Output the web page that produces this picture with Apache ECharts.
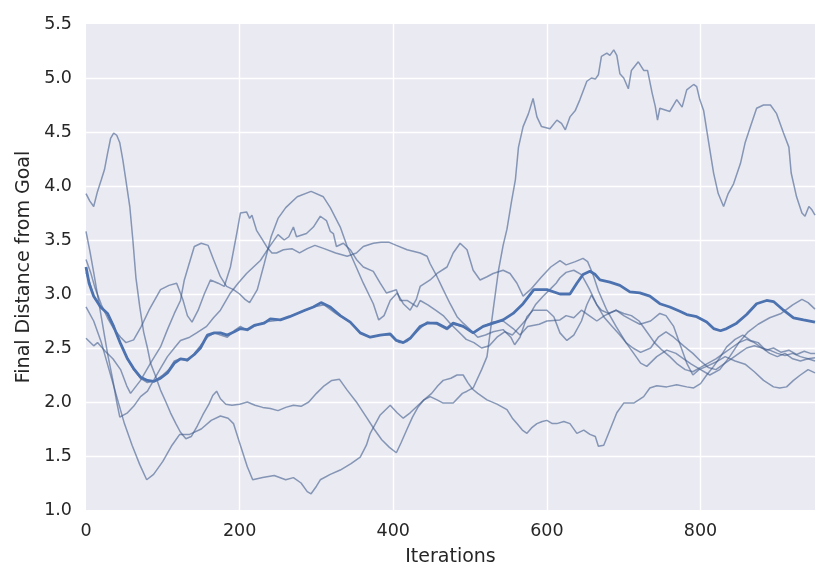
<!DOCTYPE html>
<html>
<head>
<meta charset="utf-8">
<script src="https://cdn.jsdelivr.net/npm/echarts@6/dist/echarts.min.js"></script>
<style>
html,body{margin:0;padding:0;background:#fff;}
#chart{width:831px;height:585px;}
</style>
</head>
<body>
<div id="chart"></div>
<script>
// x tick labels
const xTicks = [0, 200, 400, 600, 800];
const yTicks = [1.0, 1.5, 2.0, 2.5, 3.0, 3.5, 4.0, 4.5, 5.0, 5.5];

// individual runs: [iteration, final distance]
const run1 = [[0,3.93],[5,3.86],[10,3.81],[15,3.95],[20,4.06],[24,4.15],[28,4.3],[32,4.44],[36,4.49],[40,4.47],[44,4.4],[48,4.24],[52,4.05],[57,3.81],[61,3.5],[65,3.15],[70,2.88],[75,2.65],[80,2.5],[84,2.36],[90,2.25],[97,2.11],[104,2.0],[110,1.9],[117,1.8],[123,1.72],[130,1.66],[137,1.68],[145,1.78],[152,1.88],[160,1.98],[165,2.06],[170,2.1],[175,2.03],[182,1.98],[190,1.97],[200,1.98],[210,2.0],[220,1.97],[230,1.95],[240,1.94],[250,1.92],[260,1.95],[270,1.97],[280,1.96],[290,2.0],[300,2.08],[310,2.15],[320,2.2],[330,2.21],[340,2.11],[353,1.99],[365,1.86],[375,1.75],[385,1.65],[395,1.58],[404,1.53],[410,1.62],[418,1.75],[425,1.86],[432,1.95],[440,2.02],[450,2.08],[458,2.15],[465,2.2],[475,2.22],[483,2.25],[491,2.25],[497,2.18],[503,2.12],[510,2.08],[522,2.02],[535,1.98],[548,1.93],[555,1.85],[561,1.8],[568,1.74],[574,1.71],[580,1.76],[587,1.8],[594,1.82],[600,1.83],[607,1.8],[613,1.8],[622,1.82],[630,1.8],[639,1.71],[648,1.74],[656,1.7],[663,1.68],[667,1.59],[674,1.6],[682,1.74],[691,1.9],[700,1.99],[713,1.99],[726,2.05],[734,2.13],[743,2.15],[756,2.14],[769,2.16],[782,2.14],[791,2.13],[800,2.17],[808,2.25],[817,2.33],[826,2.42],[834,2.51],[845,2.58],[855,2.62],[865,2.57],[875,2.55],[885,2.48],[895,2.5],[905,2.46],[915,2.48],[925,2.44],[935,2.47],[943,2.45],[949,2.45]];

const run2 = [[0,2.88],[10,2.75],[20,2.55],[30,2.3],[40,2.05],[50,1.8],[60,1.6],[70,1.42],[79,1.28],[88,1.33],[100,1.45],[112,1.6],[122,1.7],[135,1.7],[150,1.75],[163,1.83],[175,1.87],[185,1.85],[192,1.8],[200,1.62],[210,1.4],[217,1.28],[230,1.3],[245,1.32],[260,1.28],[270,1.3],[280,1.25],[288,1.17],[293,1.15],[300,1.22],[305,1.28],[318,1.33],[331,1.37],[345,1.43],[357,1.49],[365,1.6],[370,1.71],[383,1.88],[396,1.97],[405,1.9],[413,1.85],[422,1.9],[431,1.96],[440,2.02],[448,2.05],[457,2.02],[465,1.99],[478,1.99],[490,2.08],[496,2.1],[504,2.13],[515,2.3],[522,2.42],[530,2.85],[537,3.22],[543,3.45],[548,3.6],[554,3.86],[559,4.06],[563,4.36],[569,4.55],[576,4.67],[582,4.81],[587,4.64],[593,4.55],[604,4.53],[613,4.61],[619,4.58],[624,4.52],[630,4.64],[637,4.7],[643,4.8],[652,4.97],[658,5.0],[663,4.99],[667,5.03],[671,5.2],[678,5.23],[682,5.21],[687,5.26],[691,5.21],[695,5.04],[700,5.0],[706,4.9],[710,5.07],[719,5.15],[726,5.07],[731,5.07],[737,4.86],[741,4.74],[744,4.61],[747,4.72],[760,4.69],[769,4.8],[776,4.73],[782,4.89],[791,4.94],[795,4.92],[799,4.8],[804,4.7],[810,4.43],[817,4.12],[823,3.93],[830,3.81],[836,3.93],[843,4.02],[852,4.21],[858,4.4],[865,4.55],[873,4.72],[882,4.75],[891,4.75],[899,4.67],[908,4.49],[915,4.36],[918,4.12],[925,3.9],[932,3.75],[936,3.72],[941,3.81],[945,3.78],[949,3.73]];

const run3 = [[0,3.58],[5,3.4],[10,3.2],[16,2.95],[22,2.7],[28,2.45],[35,2.2],[40,2.0],[44,1.86],[54,1.9],[62,1.96],[71,2.05],[80,2.1],[88,2.2],[96,2.3],[106,2.42],[115,2.5],[123,2.57],[135,2.6],[144,2.64],[157,2.7],[166,2.78],[175,2.85],[188,3.01],[198,3.1],[209,3.19],[218,3.25],[227,3.31],[240,3.45],[250,3.55],[258,3.5],[264,3.53],[270,3.62],[274,3.53],[287,3.56],[296,3.62],[305,3.72],[313,3.68],[318,3.58],[322,3.56],[326,3.44],[335,3.47],[344,3.41],[352,3.32],[361,3.25],[374,3.21],[383,3.1],[391,3.01],[404,3.04],[409,2.94],[418,2.94],[431,2.88],[435,2.94],[445,2.9],[455,2.85],[465,2.8],[475,2.72],[485,2.65],[495,2.58],[505,2.55],[515,2.5],[525,2.52],[535,2.6],[545,2.65],[555,2.62],[565,2.7],[575,2.78],[585,2.9],[595,2.98],[605,3.05],[612,3.1],[617,3.15],[625,3.2],[635,3.22],[645,3.18],[655,3.05],[665,2.9],[675,2.78],[685,2.7],[695,2.62],[703,2.55],[712,2.5],[722,2.46],[735,2.5],[745,2.6],[755,2.65],[765,2.6],[778,2.52],[790,2.45],[800,2.38],[810,2.32],[820,2.3],[830,2.35],[840,2.4],[850,2.45],[860,2.5],[870,2.52],[880,2.5],[890,2.48],[900,2.45],[910,2.43],[920,2.45],[930,2.42],[940,2.4],[949,2.41]];

const run4 = [[0,3.32],[6,3.2],[12,3.05],[20,2.9],[28,2.78],[36,2.68],[45,2.6],[52,2.55],[62,2.575],[72,2.7],[82,2.85],[97,3.04],[108,3.08],[118,3.1],[126,2.95],[132,2.8],[138,2.74],[146,2.85],[154,3.0],[162,3.13],[172,3.1],[180,3.07],[188,3.25],[197,3.59],[201,3.75],[209,3.76],[213,3.7],[216,3.73],[222,3.59],[229,3.51],[235,3.44],[242,3.38],[248,3.38],[257,3.41],[268,3.42],[278,3.38],[288,3.42],[298,3.45],[310,3.42],[325,3.38],[340,3.35],[352,3.38],[361,3.44],[374,3.47],[384,3.48],[394,3.48],[404,3.45],[418,3.41],[435,3.38],[444,3.35],[448,3.28],[457,3.16],[465,3.04],[474,2.91],[483,2.79],[491,2.73],[500,2.67],[510,2.6],[520,2.62],[530,2.65],[543,2.67],[553,2.6],[558,2.53],[565,2.6],[574,2.79],[582,2.85],[600,2.85],[609,2.79],[617,2.64],[626,2.57],[635,2.62],[645,2.75],[652,2.9],[658,2.99],[665,2.9],[671,2.85],[680,2.82],[690,2.85],[700,2.8],[710,2.76],[721,2.72],[735,2.75],[747,2.82],[755,2.8],[765,2.7],[773,2.54],[782,2.36],[790,2.25],[798,2.3],[808,2.33],[820,2.37],[832,2.42],[845,2.38],[858,2.35],[870,2.28],[882,2.2],[895,2.14],[903,2.13],[912,2.14],[921,2.2],[930,2.25],[940,2.3],[949,2.27]];

const run5 = [[0,2.59],[10,2.52],[15,2.55],[25,2.47],[35,2.4],[45,2.3],[53,2.15],[58,2.08],[71,2.2],[84,2.36],[97,2.51],[106,2.67],[115,2.82],[123,2.94],[128,3.13],[133,3.25],[141,3.44],[150,3.47],[159,3.45],[166,3.32],[175,3.16],[183,3.07],[192,3.04],[200,3.0],[207,2.95],[213,2.92],[223,3.04],[232,3.28],[241,3.53],[250,3.7],[260,3.8],[275,3.9],[293,3.95],[309,3.9],[318,3.8],[331,3.62],[340,3.44],[348,3.31],[361,3.1],[374,2.91],[381,2.76],[388,2.8],[396,2.94],[405,3.01],[413,2.91],[422,2.85],[430,2.95],[435,3.07],[448,3.13],[457,3.19],[470,3.25],[478,3.38],[487,3.47],[496,3.41],[504,3.22],[513,3.13],[522,3.16],[530,3.19],[543,3.22],[552,3.19],[561,3.1],[569,2.98],[580,3.05],[592,3.15],[605,3.25],[617,3.31],[625,3.27],[637,3.3],[647,3.33],[653,3.3],[660,3.18],[667,3.03],[678,2.85],[690,2.7],[703,2.55],[713,2.45],[722,2.36],[730,2.33],[743,2.42],[756,2.48],[768,2.45],[778,2.4],[788,2.35],[800,2.3],[812,2.25],[825,2.3],[838,2.42],[850,2.55],[862,2.65],[875,2.72],[890,2.78],[905,2.82],[920,2.9],[932,2.95],[940,2.92],[949,2.86]];

const run6 = [[0,3.2],[5,3.1],[10,2.98],[19,2.88],[28,2.82],[36,2.7],[45,2.54],[54,2.4],[62,2.3],[71,2.22],[80,2.18],[90,2.2],[100,2.25],[108,2.3],[115,2.38],[123,2.4],[132,2.38],[141,2.45],[149,2.52],[158,2.6],[167,2.64],[175,2.62],[184,2.6],[193,2.66],[201,2.7],[210,2.66],[219,2.7],[232,2.74],[253,2.76],[275,2.82],[296,2.88],[310,2.9],[325,2.82],[344,2.74],[357,2.64],[370,2.6],[383,2.62],[396,2.62],[408,2.55],[418,2.56],[435,2.68],[444,2.74],[457,2.72],[470,2.67],[478,2.72],[491,2.7],[504,2.64],[517,2.7],[530,2.74],[543,2.75],[556,2.68],[565,2.62],[575,2.7],[590,2.72],[600,2.75],[617,2.76],[625,2.8],[635,2.78],[645,2.85],[655,2.8],[665,2.75],[675,2.8],[690,2.85],[700,2.82],[710,2.8],[720,2.75],[730,2.65],[740,2.55],[750,2.48],[760,2.42],[770,2.35],[780,2.3],[790,2.28],[800,2.32],[810,2.36],[820,2.4],[830,2.45],[840,2.5],[850,2.55],[860,2.58],[870,2.55],[880,2.5],[890,2.45],[900,2.42],[910,2.45],[920,2.4],[930,2.38],[940,2.4],[949,2.38]];

// mean across runs
const meanRun = [[0,3.25],[4,3.1],[10,2.98],[19,2.88],[28,2.82],[36,2.7],[45,2.54],[54,2.4],[62,2.31],[71,2.23],[80,2.2],[88,2.19],[97,2.22],[106,2.27],[115,2.36],[123,2.4],[132,2.39],[141,2.44],[149,2.5],[158,2.62],[167,2.64],[175,2.64],[184,2.62],[193,2.65],[201,2.68],[210,2.67],[219,2.71],[232,2.73],[240,2.77],[253,2.76],[265,2.79],[275,2.82],[285,2.85],[296,2.88],[306,2.92],[312,2.9],[318,2.88],[331,2.8],[344,2.74],[357,2.64],[370,2.6],[383,2.62],[396,2.63],[404,2.57],[413,2.55],[422,2.59],[435,2.7],[444,2.73],[457,2.73],[470,2.68],[478,2.73],[491,2.7],[504,2.64],[517,2.7],[530,2.73],[543,2.76],[556,2.82],[569,2.91],[583,3.04],[600,3.04],[617,3.0],[630,3.0],[639,3.1],[647,3.18],[656,3.21],[663,3.18],[669,3.13],[682,3.11],[695,3.08],[708,3.02],[721,3.01],[734,2.98],[747,2.91],[760,2.88],[773,2.84],[782,2.81],[795,2.79],[808,2.74],[817,2.68],[826,2.66],[834,2.68],[847,2.73],[860,2.81],[873,2.91],[886,2.94],[895,2.93],[908,2.85],[921,2.78],[934,2.76],[949,2.74]];

const runs = [run1, run2, run3, run4, run5, run6];

const chart = echarts.init(document.getElementById('chart'), null, {renderer: 'canvas'});
const FONT = 'DejaVu Sans';
const thin = runs.map(function (r) {
  return {
    type: 'line', data: r, showSymbol: false, symbol: 'none', silent: true,
    lineStyle: {color: 'rgba(64,92,140,0.6)', width: 1.5}
  };
});
thin.push({
  type: 'line', data: meanRun, showSymbol: false, symbol: 'none', silent: true, z: 5,
  lineStyle: {color: '#4C72B0', width: 2.8}
});

chart.setOption({
  animation: false,
  backgroundColor: '#ffffff',
  grid: {left: 86, right: 16, top: 24, bottom: 75, show: true, backgroundColor: '#EAEAF2', borderWidth: 0},
  xAxis: {
    type: 'value', min: 0, max: 949, interval: 200,
    name: 'Iterations', nameLocation: 'middle', nameGap: 38,
    nameTextStyle: {fontFamily: FONT, fontSize: 19, color: '#262626'},
    axisLine: {show: false}, axisTick: {show: false},
    axisLabel: {fontFamily: FONT, fontSize: 17.5, color: '#262626', margin: 12, showMaxLabel: false,
      formatter: function (v) { return xTicks.indexOf(v) >= 0 ? String(v) : ''; }},
    splitLine: {show: true, showMinLine: false, showMaxLine: false, lineStyle: {color: '#ffffff', width: 1.4}}
  },
  yAxis: {
    type: 'value', min: 1.0, max: 5.5, interval: 0.5,
    name: 'Final Distance from Goal', nameLocation: 'middle', nameGap: 52, nameRotate: 90,
    nameTextStyle: {fontFamily: FONT, fontSize: 19, color: '#262626'},
    axisLine: {show: false}, axisTick: {show: false},
    axisLabel: {fontFamily: FONT, fontSize: 17.5, color: '#262626', margin: 14,
      formatter: function (v) { return v.toFixed(1); }},
    splitLine: {show: true, showMinLine: false, showMaxLine: false, lineStyle: {color: '#ffffff', width: 1.4}}
  },
  series: thin
});
</script>
</body>
</html>
